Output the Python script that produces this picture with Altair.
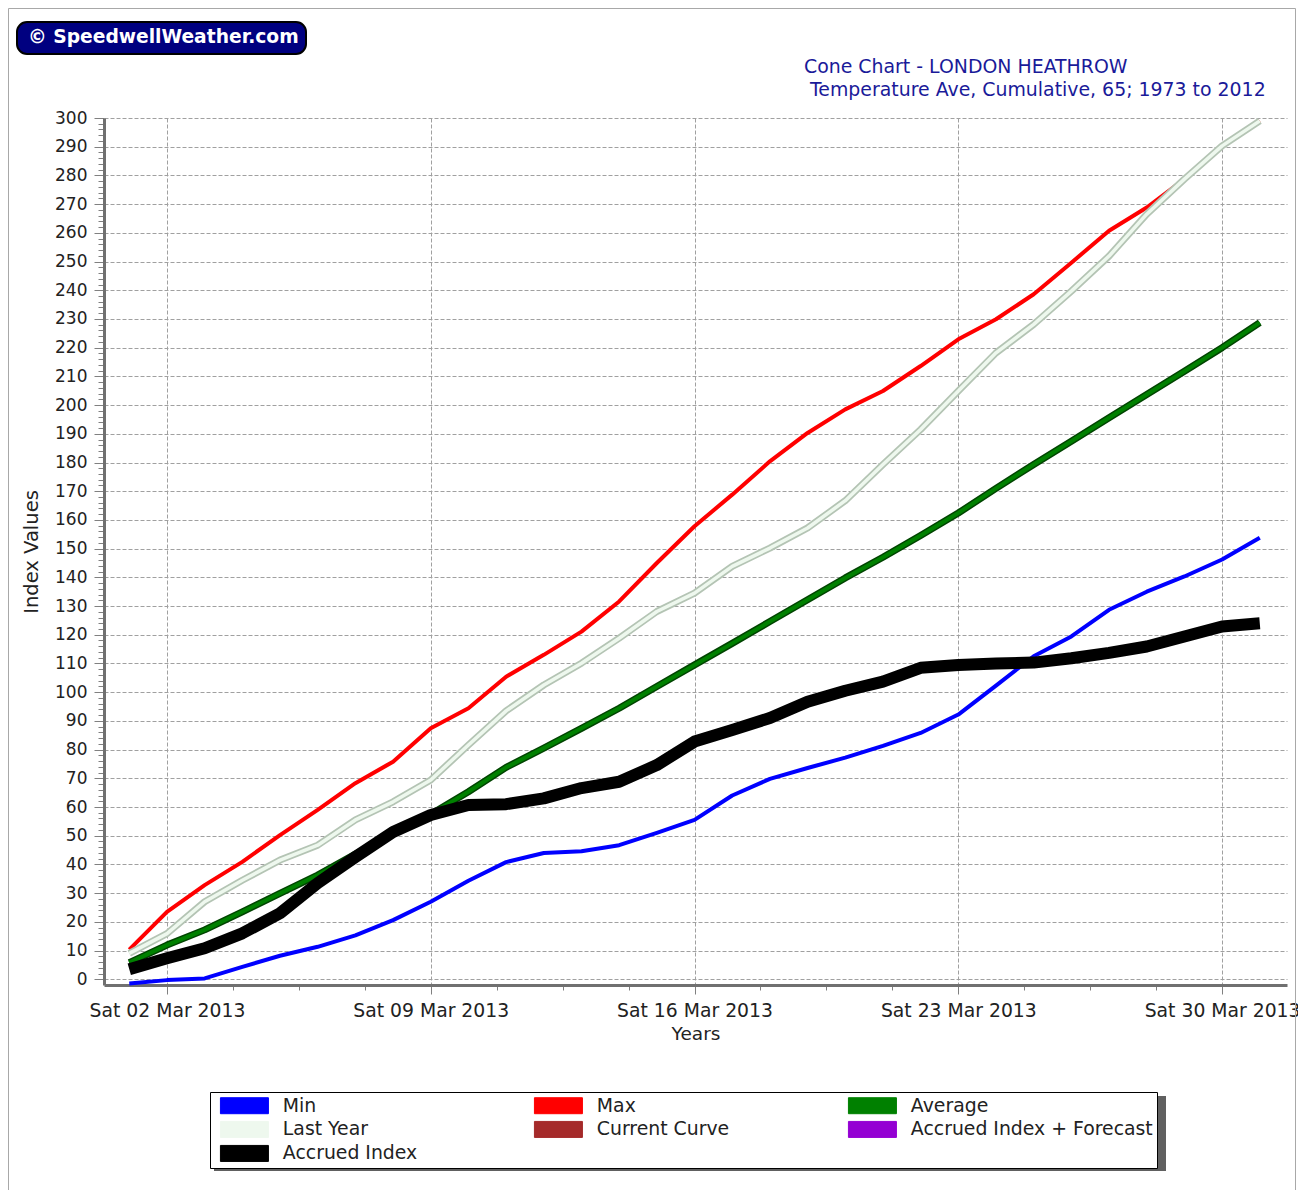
import altair as alt
import pandas as pd
from datetime import datetime, timedelta

# ---------------- data ----------------
dates = [f"2013-03-{d:02d}T00:00:00" for d in range(1, 32)]

min_vals = [-1.5, -0.3, 0.3, 4.3, 8.2, 11.3, 15.3, 20.6, 27.0, 34.3,
            40.8, 44.0, 44.6, 46.7, 51.0, 55.5, 64.0, 69.8, 73.6, 77.2,
            81.3, 85.8, 92.2, 102.3, 112.5, 119.4, 128.7, 135.0, 140.3, 146.2, 153.8]
max_vals = [10.3, 23.5, 32.8, 40.9, 50.2, 59.0, 68.3, 75.8, 87.4, 94.4,
            105.4, 113.0, 121.1, 131.6, 145.0, 157.8, 168.8, 180.4, 190.3, 198.5,
            204.9, 213.6, 222.9, 229.9, 238.6, 249.6, 260.7, 268.8, 278.7, 290.3, 299.0]
avg_vals = [5.8, 11.9, 17.2, 23.5, 29.9, 36.3, 43.6, 50.6, 57.5, 65.3,
            73.8, 80.5, 87.4, 94.4, 102.0, 109.5, 117.0, 124.6, 132.2, 139.8,
            147.0, 154.6, 162.4, 171.0, 179.3, 187.4, 195.6, 203.7, 211.8, 220.0, 228.7]
last_vals = [9.0, 15.9, 27.0, 34.5, 41.5, 46.7, 55.5, 61.8, 69.4, 81.6,
             93.5, 102.5, 110.1, 118.8, 128.1, 134.5, 143.8, 150.2, 157.2, 166.7,
             179.3, 191.5, 204.9, 218.2, 228.1, 239.7, 251.9, 266.5, 278.7, 290.3, 299.0]
acc_vals = [3.5, 7.3, 10.8, 16.0, 23.0, 33.5, 42.6, 51.3, 57.2, 60.7,
            61.0, 63.0, 66.6, 68.8, 74.6, 82.8, 86.8, 91.0, 96.7, 100.5,
            103.7, 108.5, 109.5, 110.0, 110.3, 111.8, 113.7, 115.9, 119.4, 122.9, 124.0]

series_names = ["Min", "Max", "Average", "Last Year", "Current Curve",
                "Accrued Index + Forecast", "Accrued Index"]
series_colors = ["#0000FF", "#FF0000", "#008000", "#EEF8EE", "#A52A2A",
                 "#9400D3", "#000000"]

badge_text = "\u00a9 SpeedwellWeather.com"
title_line1 = "Cone Chart - LONDON HEATHROW"
title_line2 = "Temperature Ave, Cumulative, 65; 1973 to 2012"
x_title = "Years"
y_title = "Index Values"

rows = []
for name, vals in [("Min", min_vals), ("Max", max_vals), ("Average", avg_vals),
                   ("Last Year", last_vals), ("Accrued Index", acc_vals)]:
    for d, v in zip(dates, vals):
        rows.append({"date": d, "value": v, "series": name})
df = pd.DataFrame(rows)

# ---------------- styling ----------------
FONT = "DejaVu Sans"
TXT = "#222222"
SWATCH = "M-24,-8H24V8H-24Z"

t0 = datetime(2013, 3, 2)
minor_ticks = [t0 + timedelta(hours=42 * k) for k in range(17)]
x_values = [alt.DateTime(year=t.year, month=t.month, date=t.day, hours=t.hour) for t in minor_ticks]
MAJOR_X = "abs((datum.value - datetime(2013, 2, 2)) % 604800000) < 60000"
MAJOR_Y = "datum.value % 10 === 0"

x_enc = alt.X(
    "date:T", title=x_title,
    scale=alt.Scale(domain=[alt.DateTime(year=2013, month=2, date=28, hours=7, minutes=54),
                            alt.DateTime(year=2013, month=3, date=31, hours=17, minutes=20)],
                    nice=False),
    axis=alt.Axis(values=x_values,
                  labelExpr=f"({MAJOR_X}) ? timeFormat(datum.value, '%a %d %b %Y') : ''",
                  labelOverlap=False, labelFlush=False, labelFont=FONT, labelFontSize=18.8,
                  labelColor=TXT, labelPadding=7,
                  tickSize={"condition": {"test": MAJOR_X, "value": 9}, "value": 5},
                  tickColor="#808080",
                  gridOpacity={"condition": {"test": MAJOR_X, "value": 1}, "value": 0},
                  gridColor="#a0a0a0", gridDash=[4, 2],
                  domainColor="#707070", domainWidth=3,
                  titleFont=FONT, titleFontSize=18.5, titleFontWeight="normal",
                  titleColor=TXT, titlePadding=5))

y_enc = alt.Y(
    "value:Q", title=y_title,
    scale=alt.Scale(domain=[-2, 300], nice=False, zero=False),
    axis=alt.Axis(values=list(range(0, 301, 2)),
                  labelExpr=f"{MAJOR_Y} ? datum.label : ''",
                  labelOverlap=False, labelFont=FONT, labelFontSize=17, labelColor=TXT,
                  labelPadding=7,
                  tickSize={"condition": {"test": MAJOR_Y, "value": 10}, "value": 6},
                  tickColor="#808080",
                  gridOpacity={"condition": {"test": MAJOR_Y, "value": 1}, "value": 0},
                  gridColor="#a0a0a0", gridDash=[4, 2],
                  domainColor="#707070", domainWidth=3,
                  titleFont=FONT, titleFontSize=19.5, titleFontWeight="normal",
                  titleColor=TXT, titlePadding=13))

color_scale = alt.Scale(domain=series_names, range=series_colors)
color_line = alt.Color("series:N", scale=color_scale, legend=None)
color_leg = alt.Color(
    "series:N", scale=color_scale,
    legend=alt.Legend(title=None, orient="none", legendX=106, legendY=974, columns=3,
                      direction="horizontal",
                      gridAlign="all", columnPadding=3, rowPadding=3, padding=4,
                      fillColor="white", strokeColor="black",
                      symbolType=SWATCH, symbolSize=4, symbolStrokeWidth=1,
                      symbolStrokeColor="#a4b4a4",
                      symbolOffset=21, labelOffset=29, symbolOpacity=1,
                      labelFont=FONT, labelFontSize=18.85, labelColor=TXT, labelLimit=400))


def line(series, width, color=None):
    base = alt.Chart(df).transform_filter(alt.datum.series == series)
    m = base.mark_line(strokeJoin="round", strokeCap="butt")
    if color is None:
        return m.encode(x=x_enc, y=y_enc, color=color_line, strokeWidth=alt.value(width))
    return m.encode(x=x_enc, y=y_enc, color=alt.value(color), strokeWidth=alt.value(width))


# legend-only layer (no rows drawn; the legend lists the colour scale's domain)
legend_layer = alt.Chart(df).transform_filter("false").mark_point(
    filled=True, shape=SWATCH, size=4, opacity=1).encode(x=x_enc, y=y_enc, color=color_leg)

one = pd.DataFrame({"t": [badge_text]})
frame = alt.Chart(one).mark_rect(fill=None, stroke="#a8a8a8", strokeWidth=1).encode(
    x=alt.value(-95.5), x2=alt.value(1191.5), y=alt.value(-109.5), y2=alt.value(1200))
badge = alt.Chart(one).mark_rect(cornerRadius=10, fill="#000080", stroke="black",
                                 strokeWidth=2).encode(
    x=alt.value(-87), x2=alt.value(202), y=alt.value(-96), y2=alt.value(-64))
badge_t = alt.Chart(one).mark_text(font=FONT, fontSize=18.7, fontWeight="bold", color="white",
                                   align="left", baseline="middle").encode(
    x=alt.value(-76), y=alt.value(-81), text="t:N")
t1 = alt.Chart(pd.DataFrame({"t": [title_line1]})).mark_text(
    font=FONT, fontSize=18.9, color="#1a1a99", align="left", baseline="middle").encode(
    x=alt.value(700), y=alt.value(-51), text="t:N")
t2 = alt.Chart(pd.DataFrame({"t": [title_line2]})).mark_text(
    font=FONT, fontSize=18.9, color="#1a1a99", align="left", baseline="middle").encode(
    x=alt.value(706), y=alt.value(-28), text="t:N")
shadow = alt.Chart(one).mark_rect(fill="#606060").encode(
    x=alt.value(110), x2=alt.value(1062), y=alt.value(978), y2=alt.value(1053))

chart = alt.layer(
    frame, badge, badge_t, t1, t2, shadow,
    legend_layer,
    line("Min", 4),
    line("Max", 4),
    line("Last Year", 7, "#b4c4b4"),
    line("Last Year", 3.5),
    line("Average", 7, "#004400"),
    line("Average", 4),
    line("Accrued Index", 12),
).properties(
    width=1183, height=867,
    autosize=alt.AutoSizeParams(type="none"),
    padding={"left": 96, "top": 110, "right": 11, "bottom": 205},
    background="white",
).configure_view(stroke=None)

chart.save("out.html", embed_options={"renderer": "svg", "actions": False})
